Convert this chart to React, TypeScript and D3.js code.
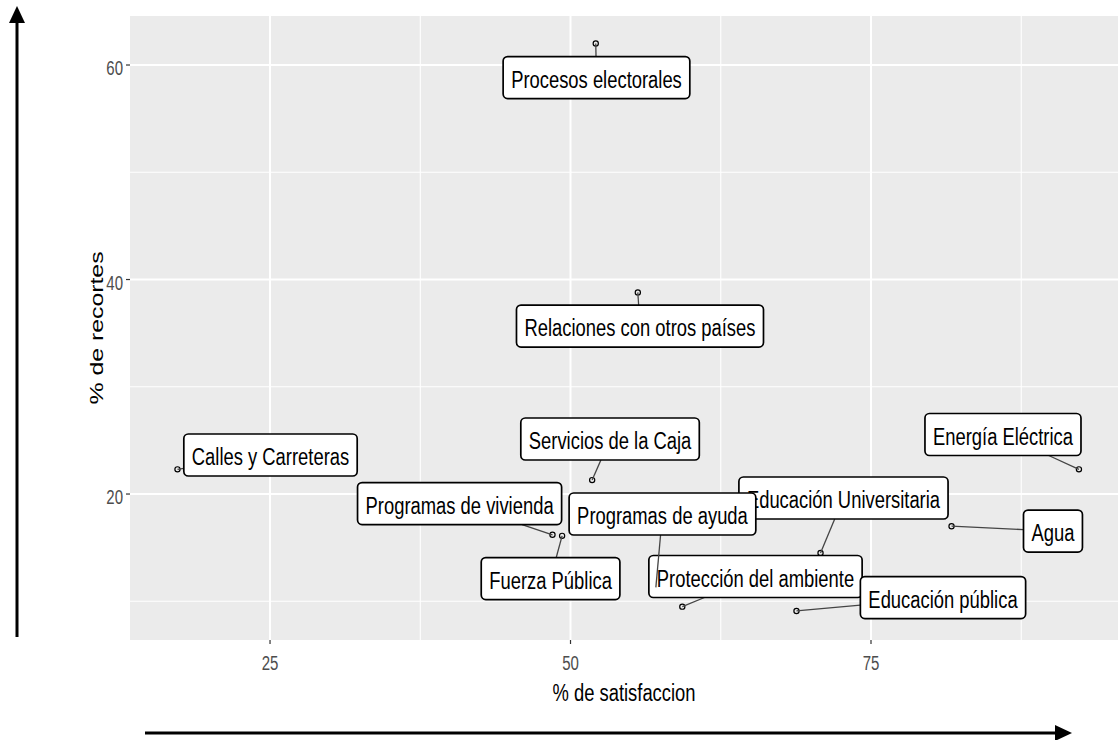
import React, { useEffect, useRef } from 'react';
import * as d3 from 'd3';

// ---- data ----
const servicios = [
  'Procesos electorales',
  'Relaciones con otros países',
  'Calles y Carreteras',
  'Servicios de la Caja',
  'Programas de vivienda',
  'Fuerza Pública',
  'Educación Universitaria',
  'Protección del ambiente',
  'Programas de ayuda',
  'Educación pública',
  'Agua',
  'Energía Eléctrica',
];
const satisfaccion = [52.1, 55.6, 17.3, 51.8, 48.5, 49.3, 70.8, 59.3, 57.1, 68.8, 81.7, 92.3];
const recortes = [62.0, 38.8, 22.3, 21.3, 16.2, 16.1, 14.5, 9.5, 11.3, 9.1, 17.0, 22.3];
// repelled label centres (data units)
const labelSatisfaccion = [52.16, 55.78, 25.04, 53.29, 40.77, 48.34, 72.71, 65.39, 57.65, 80.99, 90.14, 85.98];
const labelRecortes = [58.83, 35.66, 23.64, 25.13, 19.11, 12.12, 19.63, 12.31, 18.14, 10.35, 16.55, 25.55];

const xTicks = [25, 50, 75];
const xMinor = [37.5, 62.5, 87.5];
const yTicks = [20, 40, 60];
const yMinor = [10, 30, 50];
const xTitle = '% de satisfaccion';
const yTitle = '% de recortes';

const W = 1118;
const H = 740;
const VS = 1.35; // vertical stretch of glyphs
const FONT = "'Liberation Sans', Arial, sans-serif";

export default function App() {
  const ref = useRef<SVGSVGElement>(null);

  useEffect(() => {
    const svg = d3.select(ref.current);
    svg.selectAll('*').remove();

    const x = d3.scaleLinear().domain([13.35, 95.55]).range([130, 1118]);
    const y = d3.scaleLinear().domain([6.39, 64.57]).range([640, 16]);
    const [x0, x1] = x.range();
    const [y0, y1] = y.range();

    const addText = (
      parent: any,
      tx: number,
      ty: number,
      txt: string,
      size: number,
      fill: string,
      anchor: string,
      rotate = false
    ) => {
      const g = parent
        .append('g')
        .attr('transform', `translate(${tx},${ty}) scale(1,${VS})${rotate ? ' rotate(-90)' : ''}`);
      return g
        .append('text')
        .attr('font-family', FONT)
        .attr('font-size', size)
        .attr('fill', fill)
        .attr('text-anchor', anchor)
        .text(txt);
    };

    // panel
    svg.append('rect').attr('x', x0).attr('y', y1).attr('width', x1 - x0).attr('height', y0 - y1).attr('fill', '#EBEBEB');

    const grid = svg.append('g');
    xMinor.forEach((v) =>
      grid.append('line').attr('x1', x(v)).attr('x2', x(v)).attr('y1', y1).attr('y2', y0).attr('stroke', '#fff').attr('stroke-width', 1.1)
    );
    yMinor.forEach((v) =>
      grid.append('line').attr('x1', x0).attr('x2', x1).attr('y1', y(v)).attr('y2', y(v)).attr('stroke', '#fff').attr('stroke-width', 1.1)
    );
    xTicks.forEach((v) =>
      grid.append('line').attr('x1', x(v)).attr('x2', x(v)).attr('y1', y1).attr('y2', y0).attr('stroke', '#fff').attr('stroke-width', 2)
    );
    yTicks.forEach((v) =>
      grid.append('line').attr('x1', x0).attr('x2', x1).attr('y1', y(v)).attr('y2', y(v)).attr('stroke', '#fff').attr('stroke-width', 2)
    );

    // axes ticks & labels
    const ax = svg.append('g');
    xTicks.forEach((v) => {
      ax.append('line').attr('x1', x(v)).attr('x2', x(v)).attr('y1', y0).attr('y2', y0 + 4).attr('stroke', '#333').attr('stroke-width', 1.2);
      addText(ax, x(v), 670, String(v), 15, '#4D4D4D', 'middle');
    });
    yTicks.forEach((v) => {
      ax.append('line').attr('x1', x0 - 4).attr('x2', x0).attr('y1', y(v)).attr('y2', y(v)).attr('stroke', '#333').attr('stroke-width', 1.2);
      addText(ax, 123, y(v) + 10, String(v), 15, '#4D4D4D', 'end');
    });
    addText(ax, (x0 + x1) / 2, 701, xTitle, 18.4, '#000', 'middle');
    addText(ax, 103, (y0 + y1) / 2, yTitle, 18.4, '#000', 'middle', true);

    // points
    const pts = svg.append('g');
    servicios.forEach((_, i) => {
      pts
        .append('circle')
        .attr('cx', x(satisfaccion[i]))
        .attr('cy', y(recortes[i]))
        .attr('r', 2.6)
        .attr('fill', 'none')
        .attr('stroke', '#000')
        .attr('stroke-width', 1.2);
    });

    // labels with segments
    const labs = svg.append('g');
    const BH = 42;
    const PAD = 8;
    servicios.forEach((name, i) => {
      const g = labs.append('g');
      const cx = x(labelSatisfaccion[i]);
      const cy = y(labelRecortes[i]);
      const px = x(satisfaccion[i]);
      const py = y(recortes[i]);
      const segG = g.append('g');
      const rect = g.append('rect');
      const t = addText(g, cx, cy + 10 / VS * VS, name, 18.4, '#000', 'middle');
      const tw = (t.node() as SVGTextElement).getComputedTextLength();
      const bw = tw + 2 * PAD;
      const bx = cx - bw / 2;
      const by = cy - BH / 2;
      rect
        .attr('x', bx)
        .attr('y', by)
        .attr('width', bw)
        .attr('height', BH)
        .attr('rx', 4.5)
        .attr('fill', '#fff')
        .attr('stroke', '#000')
        .attr('stroke-width', 1.7);
      // segment from point towards centre, ending on box border
      const inside = px >= bx && px <= bx + bw && py >= by && py <= by + BH;
      if (!inside) {
        const dx = cx - px;
        const dy = cy - py;
        let tmin = 1;
        const cand: number[] = [];
        if (dx !== 0) {
          cand.push((bx - px) / dx, (bx + bw - px) / dx);
        }
        if (dy !== 0) {
          cand.push((by - py) / dy, (by + BH - py) / dy);
        }
        cand.forEach((tt) => {
          if (tt > 0 && tt < tmin) {
            const ix = px + tt * dx;
            const iy = py + tt * dy;
            if (ix >= bx - 0.01 && ix <= bx + bw + 0.01 && iy >= by - 0.01 && iy <= by + BH + 0.01) tmin = tt;
          }
        });
        segG
          .append('line')
          .attr('x1', px)
          .attr('y1', py)
          .attr('x2', px + tmin * dx)
          .attr('y2', py + tmin * dy)
          .attr('stroke', '#444')
          .attr('stroke-width', 1.3);
      }
    });

    // arrows
    const ar = svg.append('g');
    ar.append('line').attr('x1', 17).attr('x2', 17).attr('y1', 637).attr('y2', 20).attr('stroke', '#000').attr('stroke-width', 3);
    ar.append('path').attr('d', 'M9,23 L25,23 L17,6 Z').attr('fill', '#000');
    ar.append('line').attr('x1', 145).attr('x2', 1058).attr('y1', 733).attr('y2', 733).attr('stroke', '#000').attr('stroke-width', 3);
    ar.append('path').attr('d', 'M1055,725 L1055,741 L1072,733 Z').attr('fill', '#000');
  }, []);

  return (
    <svg
      ref={ref}
      width={W}
      height={H}
      style={{ position: 'absolute', left: 0, top: 0, background: '#fff', display: 'block' }}
    />
  );
}
